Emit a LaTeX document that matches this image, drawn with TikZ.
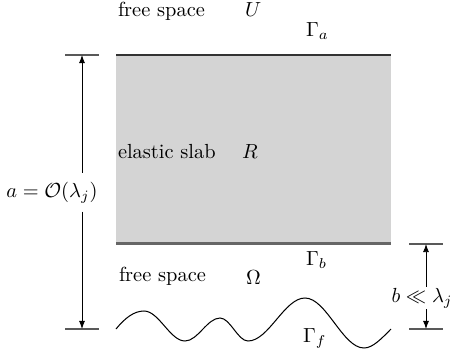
\documentclass[tikz,border=0pt]{standalone}
\usepackage{amsmath,amssymb}
\usetikzlibrary{arrows.meta}
\begin{document}
\begin{tikzpicture}[x=0.49pt,y=-0.49pt,
  lbl/.style={inner sep=0pt,outer sep=0pt,anchor=base west},
  tick/.style={draw=black!65,line width=0.55pt},
  dimarrow/.style={draw=black,line width=0.45pt,-{Latex[length=4pt,width=3pt]}},
  slabfill/.style={fill=black!17,draw=none},
  wave/.style={draw=black,line width=0.5pt}]
\useasboundingbox (0,0) rectangle (453,356);
% slab
\path[slabfill] (116,55) rectangle (391,243.5);
\coordinate (sTL) at (116,55);
\coordinate (sTR) at (391,55);
\coordinate (sBL) at (116,243.5);
\coordinate (sBR) at (391,243.5);
\draw[draw=black!80,line width=0.5pt] (sTL) -- (sTR);
\draw[draw=black!60,line width=1pt] (sBL) -- (sBR);
% ticks
\coordinate (aTl) at (65,55);   \coordinate (aTr) at (99,55);
\coordinate (aBl) at (65,329);  \coordinate (aBr) at (99,329);
\coordinate (bTl) at (409,244); \coordinate (bTr) at (443,244);
\coordinate (bBl) at (409,329); \coordinate (bBr) at (443,329);
\draw[tick] (aTl) -- (aTr);
\draw[tick] (aBl) -- (aBr);
\draw[tick] (bTl) -- (bTr);
\draw[tick] (bBl) -- (bBr);
% dimension a
\coordinate (atop) at (82,55);
\coordinate (abot) at (82,329);
\node[inner sep=4.3pt,outer sep=0pt,anchor=base] (alab) at (52,197) {$a=\mathcal{O}(\lambda_j)$};
\draw[dimarrow] (atop |- alab.north) -- (atop);
\draw[dimarrow] (abot |- alab.south) -- (abot);
% dimension b
\coordinate (btop) at (426,244);
\coordinate (bbot) at (426,329);
\node[inner sep=0.6pt,outer sep=0pt,anchor=base] (blab) at (422,302) {$b\ll\lambda_j$};
\draw[dimarrow] (btop |- blab.north) -- (btop);
\draw[dimarrow] (bbot |- blab.south) -- (bbot);
% wave (bottom boundary)
\coordinate (w0) at (116,329);
\coordinate (w7) at (391,329);
\draw[wave] (w0) .. controls (125,318) and (134,311) .. (144,311)
  .. controls (158.9,311) and (170.1,341) .. (185,341)
  .. controls (197.7,341) and (207.3,318) .. (220,318)
  .. controls (230.2,318) and (237.8,341) .. (248,341)
  .. controls (268.7,341) and (284.3,298) .. (305,298)
  .. controls (326.4,298) and (342.6,348) .. (364,348)
  .. controls (373,348) and (382,338) .. (w7);
% labels
\node[lbl] (fs1) at (118,16) {free space};
\node[lbl] (U) at (245,16) {$U$};
\node[lbl] (Ga) at (306,36) {$\Gamma_a$};
\node[lbl] (es) at (118,158) {elastic slab};
\node[lbl] (R) at (242,158) {$R$};
\node[lbl] (fs2) at (119,281) {free space};
\node[lbl] (Om) at (246,284) {$\Omega$};
\node[lbl] (Gb) at (306,265) {$\Gamma_b$};
\node[lbl] (Gf) at (303,342) {$\Gamma_f$};
\end{tikzpicture}
\end{document}
